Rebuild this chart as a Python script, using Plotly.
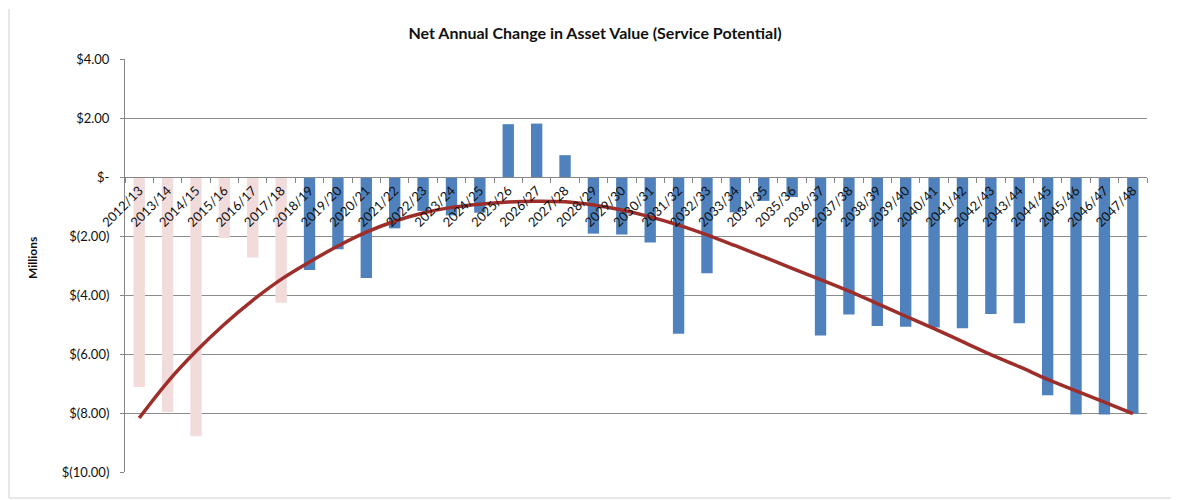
import plotly.graph_objects as go

# ---- data ----
years_hist = ["2012/13", "2013/14", "2014/15", "2015/16", "2016/17", "2017/18"]
values_hist = [-7.12, -7.97, -8.79, -2.07, -2.73, -4.26]

years_proj = ["2018/19", "2019/20", "2020/21", "2021/22", "2022/23", "2023/24",
              "2024/25", "2025/26", "2026/27", "2027/28", "2028/29", "2029/30",
              "2030/31", "2031/32", "2032/33", "2033/34", "2034/35", "2035/36",
              "2036/37", "2037/38", "2038/39", "2039/40", "2040/41", "2041/42",
              "2042/43", "2043/44", "2044/45", "2045/46", "2046/47", "2047/48"]
values_proj = [-3.15, -2.45, -3.42, -1.74, -1.15, -1.30,
               -1.21, 1.79, 1.81, 0.74, -1.92, -1.95,
               -2.22, -5.31, -3.26, -1.20, -0.81, -0.68,
               -5.37, -4.66, -5.05, -5.08, -5.10, -5.13,
               -4.64, -4.96, -7.40, -8.05, -8.05, -8.03]

# polynomial trendline values, one per category
trend_values = [-8.17, -6.95, -5.91, -4.99, -4.18, -3.47, -2.88, -2.34, -1.87, -1.50,
                -1.22, -1.03, -0.92, -0.85, -0.82, -0.84, -0.95, -1.12, -1.35, -1.63,
                -1.96, -2.33, -2.71, -3.10, -3.48, -3.87, -4.29, -4.72, -5.14, -5.58,
                -6.02, -6.43, -6.86, -7.25, -7.63, -8.02]

y_tickvals = [4, 2, 0, -2, -4, -6, -8, -10]
y_ticktext = ["$4.00", "$2.00", "$-", "$(2.00)", "$(4.00)", "$(6.00)", "$(8.00)", "$(10.00)"]

title_text = "Net Annual Change in Asset Value (Service Potential)"
y_title = "Millions"

all_years = years_hist + years_proj
y_min, y_max = -10, 4

# ---- layout geometry (pixels) ----
W, H = 1179, 500
OFF = 8  # page offset of the figure inside the browser window
ML, MR, MT, MB = 117, 40, 51, 36
PW, PH = W - ML - MR, H - MT - MB

def px_x(p):
    return (p - OFF - ML) / PW

def px_y(p):
    return (H - MB - (p - OFF)) / PH

FONT = "Lato, 'Open Sans', sans-serif"

fig = go.Figure()
fig.add_trace(go.Bar(x=years_hist, y=values_hist, marker=dict(color="#F2DCDB", line=dict(width=0)),
                     name="Actual", showlegend=False))
fig.add_trace(go.Bar(x=years_proj, y=values_proj, marker=dict(color="#4F81BD", line=dict(width=0)),
                     name="Projected", showlegend=False))
fig.add_trace(go.Scatter(x=all_years, y=trend_values, mode="lines",
                         line=dict(color="#9E2E2A", width=3.5, shape="spline", smoothing=1.0),
                         showlegend=False, hoverinfo="skip"))

fig.update_layout(
    width=W, height=H,
    margin=dict(l=ML, r=MR, t=MT, b=MB, autoexpand=False),
    paper_bgcolor="white", plot_bgcolor="white",
    barmode="overlay", bargap=0.6,
    font=dict(family=FONT, color="#222222", size=12),
    title=dict(text="<b>" + title_text + "</b>", x=(595 - OFF) / W, xanchor="center",
               y=1 - (33 - OFF) / H, yanchor="middle",
               font=dict(size=16, family=FONT, color="#111111")),
    xaxis=dict(type="category", categoryorder="array", categoryarray=all_years,
               anchor="free", position=(0 - y_min) / (y_max - y_min),
               showline=True, linecolor="#868686", linewidth=1,
               ticks="outside", ticklen=5, tickcolor="#868686", tickson="boundaries",
               tickangle=-45, tickfont=dict(size=13, family=FONT, color="#111111"),
               showgrid=False, zeroline=False, range=[-0.5, len(all_years) - 0.5],
               automargin=False),
    yaxis=dict(range=[y_min, y_max], tickvals=y_tickvals, ticktext=y_ticktext,
               showgrid=True, gridcolor="#8C8C8C", gridwidth=1,
               showline=True, linecolor="#868686", linewidth=1,
               ticks="outside", ticklen=4, tickcolor="#868686",
               zeroline=False, tickfont=dict(size=13, family=FONT, color="#111111"),
               ticklabelstandoff=8, automargin=False),
    annotations=[dict(text="<b>" + y_title + "</b>", xref="paper", yref="paper",
                      x=px_x(32), y=px_y(258), textangle=-90, showarrow=False,
                      font=dict(size=12, family=FONT, color="#111111"),
                      xanchor="center", yanchor="middle")],
    shapes=[
        dict(type="line", xref="paper", yref="paper",
             x0=px_x(9), x1=px_x(9), y0=px_y(498), y1=px_y(9),
             line=dict(color="#D0D0D0", width=1), layer="below"),
        dict(type="line", xref="paper", yref="paper",
             x0=px_x(9), x1=1 + MR / PW, y0=px_y(498), y1=px_y(498),
             line=dict(color="#D0D0D0", width=1), layer="below"),
    ],
)

fig.write_html("out.html")
